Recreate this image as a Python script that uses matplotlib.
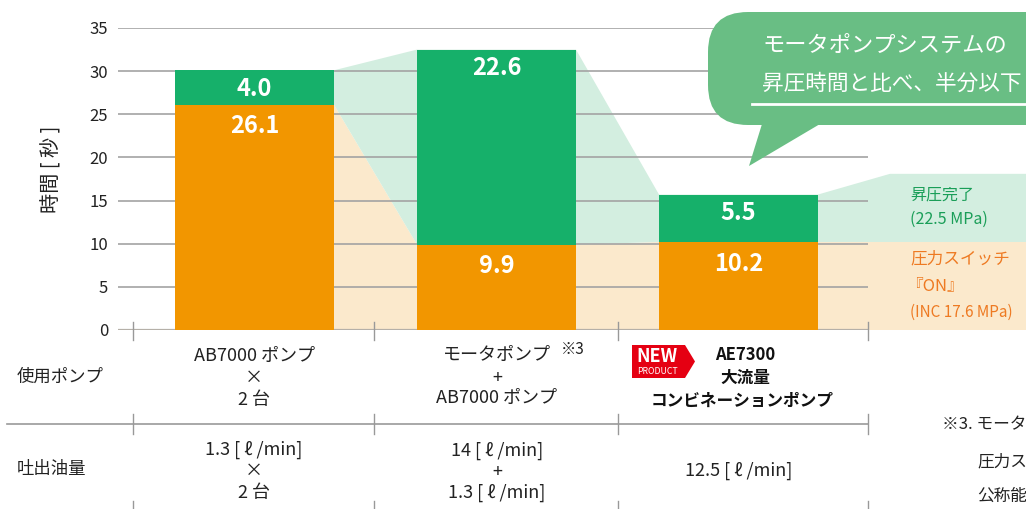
import numpy as np
import matplotlib
matplotlib.use('Agg')
import matplotlib.pyplot as plt
from matplotlib.patches import Polygon, FancyBboxPatch

plt.rcParams['font.family'] = ['Noto Sans CJK JP', 'DejaVu Sans']

# ---------------- data ----------------
categories = ['AB7000 ポンプ×2台', 'モータポンプ+AB7000 ポンプ', 'AE7300 大流量コンビネーションポンプ']
switch_on = [26.1, 9.9, 10.2]      # 圧力スイッチ『ON』 まで [秒]
to_complete = [4.0, 22.6, 5.5]     # 昇圧完了 まで [秒]
yticks = [0, 5, 10, 15, 20, 25, 30, 35]
pump_rows = [['AB7000 ポンプ', '×', '2 台'],
             ['モータポンプ', '+', 'AB7000 ポンプ'],
             ['AE7300', '大流量', 'コンビネーションポンプ']]
flow_rows = [['1.3 [ ℓ /min]', '×', '2 台'],
             ['14 [ ℓ /min]', '+', '1.3 [ ℓ /min]'],
             ['12.5 [ ℓ /min]']]
row_labels = ['使用ポンプ', '吐出油量']

GREEN = '#16b06a'
ORANGE = '#f29600'
LGREEN = '#d3eee0'
LORANGE = '#fbe9cc'
GRID = '#a3a3a3'
BUBBLE = '#69be84'
TXT = '#222222'

W, H = 1026, 509
fig = plt.figure(figsize=(W / 100, H / 100), dpi=100)

# main chart axes
ax = fig.add_axes([118 / W, 1 - 330 / H, (W - 118) / W, 302 / H])
x = np.arange(len(categories))
bw = 0.657
unit = 242.0
xmin = (118 - 254.5) / unit
xmax = (W - 254.5) / unit
grid_end = (868 - 254.5) / unit
ax.set_xlim(xmin, xmax)
ax.set_ylim(0, 35)
for s in ax.spines.values():
    s.set_visible(False)
ax.set_xticks([])
ax.set_yticks(yticks)
ax.tick_params(axis='y', length=0, pad=7, labelsize=12, labelcolor=TXT)
ax.patch.set_alpha(0)

sw = np.array(switch_on)
tot = sw + np.array(to_complete)
L = x - bw / 2
R = x + bw / 2
band_top = 18.1
band_knee = (890 - 254.5) / unit

# light connecting areas
orange_poly = [(R[0], 0), (R[0], sw[0]), (L[1], sw[1]), (R[1], sw[1]), (L[2], sw[2]),
               (xmax, sw[2]), (xmax, 0)]
ax.add_patch(Polygon(orange_poly, closed=True, facecolor=LORANGE, edgecolor='none', zorder=1))
green_poly = [(R[0], sw[0]), (R[0], tot[0]), (L[1], tot[1]), (R[1], tot[1]), (L[2], tot[2]),
              (R[2], tot[2]), (band_knee, band_top), (xmax, band_top), (xmax, sw[2]),
              (L[2], sw[2]), (R[1], sw[1]), (L[1], sw[1])]
ax.add_patch(Polygon(green_poly, closed=True, facecolor=LGREEN, edgecolor='none', zorder=1))

# grid
ax.hlines(yticks[1:], xmin, grid_end, color=GRID, lw=1.2, zorder=2)
ax.hlines([0], xmin, grid_end, color='#b5b0a8', lw=1.6, zorder=2)

# bars
ax.bar(x, sw, width=bw, color=ORANGE, zorder=3)
ax.bar(x, to_complete, width=bw, bottom=sw, color=GREEN, zorder=3)

for i in range(len(x)):
    ax.annotate(f'{to_complete[i]:.1f}', xy=(x[i], tot[i]), xytext=(0, -13.5), textcoords='offset points',
                ha='center', va='center', color='white', fontsize=17, fontweight='bold', zorder=4)
    ax.annotate(f'{switch_on[i]:.1f}', xy=(x[i], sw[i]), xytext=(0, -15.5), textcoords='offset points',
                ha='center', va='center', color='white', fontsize=17, fontweight='bold', zorder=4)

fig.text(52 / W, 1 - 169 / H, '時間 [ 秒 ]', rotation=90, ha='center', va='center',
         fontsize=14.5, color=TXT)

# overlay axes in pixel coordinates
ov = fig.add_axes([0, 0, 1, 1], zorder=5)
ov.set_xlim(0, W)
ov.set_ylim(H, 0)
ov.axis('off')
ov.patch.set_alpha(0)

# speech bubble
ov.add_patch(FancyBboxPatch((708, 12), 500, 113, boxstyle='round,pad=0,rounding_size=40',
                            facecolor=BUBBLE, edgecolor='none'))
ov.add_patch(Polygon([(762, 124), (820, 124), (749, 166)], closed=True,
                     facecolor=BUBBLE, edgecolor='none'))
ov.text(762, 45, 'モータポンプシステムの', color='white', fontsize=16, va='center', ha='left')
ov.text(762, 84, '昇圧時間と比べ、半分以下', color='white', fontsize=15.6, va='center', ha='left')
ov.plot([752, 1030], [104, 104], color='white', lw=2)

# legend band labels
TG = '#1a9e58'
TO = '#ee7a22'
ov.text(910, 195, '昇圧完了', color=TG, fontsize=11.5, va='center', ha='left')
ov.text(910, 219, '(22.5 MPa)', color=TG, fontsize=11.5, va='center', ha='left')
ov.text(910, 259, '圧力スイッチ', color=TO, fontsize=12, va='center', ha='left')
ov.text(906, 286, '『ON』', color=TO, fontsize=12, va='center', ha='left')
ov.text(910, 312, '(INC 17.6 MPa)', color=TO, fontsize=11, va='center', ha='left')

# table lines / ticks
tick_x = [133, 374, 618, 868]
for tx in tick_x:
    for (y0, y1) in [(322, 340), (414, 434), (501, 509)]:
        ov.plot([tx, tx], [y0, y1], color='#999999', lw=1)
ov.plot([7, 868], [424, 424], color='#999999', lw=1.2)

# row labels
ov.text(17, 377, row_labels[0], fontsize=12.5, va='center', ha='left', color=TXT)
ov.text(17, 469, row_labels[1], fontsize=12.5, va='center', ha='left', color=TXT)

col_x = [254, 497, 742]
# pump row
for j, t in enumerate(pump_rows[0]):
    ov.text(col_x[0], [356, 378, 400][j], t, fontsize=13, ha='center', va='center', color=TXT)
for j, t in enumerate(pump_rows[1]):
    ov.text(col_x[1], [355, 378, 398][j], t, fontsize=13, ha='center', va='center', color=TXT)
ov.text(561, 349, '※3', fontsize=11, ha='left', va='center', color=TXT)
for j, t in enumerate(pump_rows[2]):
    ov.text([745, 745, 742][j], [355, 378, 401][j], t, fontsize=12, fontweight='bold',
            ha='center', va='center', color='#111111')

# NEW badge
ov.add_patch(Polygon([(632, 345), (685, 345), (695, 361.5), (685, 378), (632, 378)],
                     closed=True, facecolor='#e50012', edgecolor='none'))
ov.text(657, 356, 'NEW', color='white', fontsize=13, fontweight='bold', ha='center', va='center')
ov.text(657, 371, 'PRODUCT', color='white', fontsize=6.3, ha='center', va='center')

# flow row
for j, t in enumerate(flow_rows[0]):
    ov.text(col_x[0], [450, 471, 493][j], t, fontsize=13, ha='center', va='center', color=TXT)
for j, t in enumerate(flow_rows[1]):
    ov.text(col_x[1], [451, 472, 493][j], t, fontsize=13, ha='center', va='center', color=TXT)
ov.text(739, 471, flow_rows[2][0], fontsize=13, ha='center', va='center', color=TXT)

# footnote (the part visible in the reference)
ov.text(942, 425, '※3. モータ', fontsize=12, ha='left', va='center', color=TXT)
ov.text(977, 462, '圧力ス', fontsize=12, ha='left', va='center', color=TXT)
ov.text(977, 496, '公称能', fontsize=12, ha='left', va='center', color=TXT)

fig.savefig('out.png', dpi=100)
